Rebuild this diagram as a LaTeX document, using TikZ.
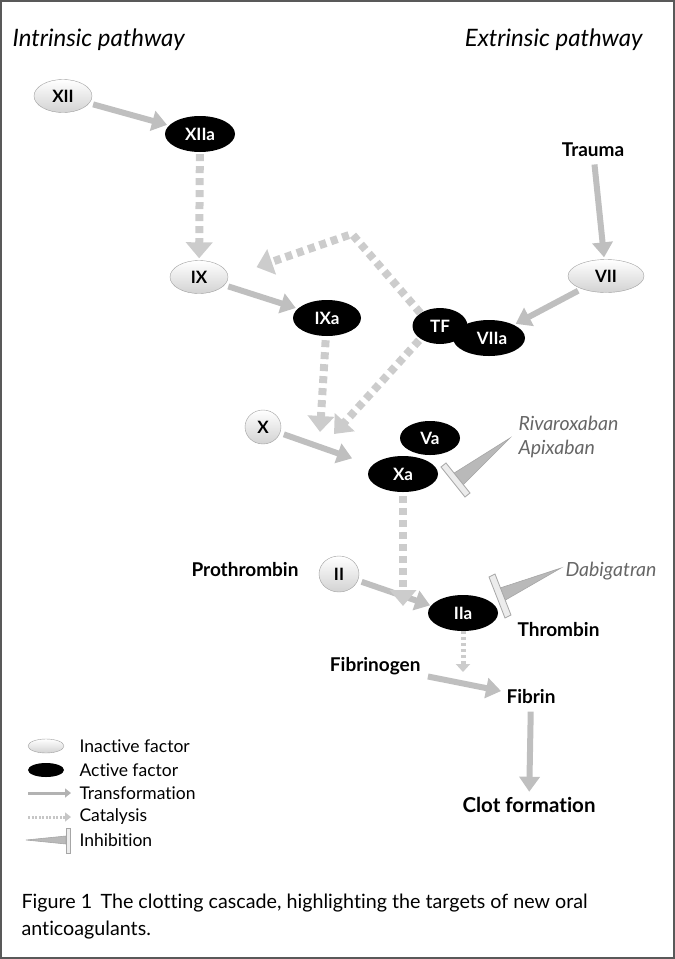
\documentclass[tikz,border=0pt]{standalone}
\usepackage{fontspec}
\setmainfont{Lato}[Ligatures=NoCommon]
\setsansfont{Lato}[Ligatures=NoCommon]
\usepackage{tikz}
\usetikzlibrary{shapes.geometric,arrows.meta,calc}
\tikzset{
  inactive/.style={ellipse, draw=gray!75, top color=white, bottom color=gray!35, minimum width=58pt, minimum height=33pt, inner sep=0pt, font=\bfseries\fontsize{17}{17}\selectfont},
  active/.style={ellipse, fill=black, text=white, minimum width=70pt, minimum height=36pt, inner sep=0pt, font=\bfseries\fontsize{17}{17}\selectfont},
  trans/.style={-{Triangle[length=15pt,width=20pt]}, draw=gray!50, line width=6pt, shorten <=4pt, shorten >=2pt},
  catal/.style={-{Triangle[length=16pt,width=26pt]}, draw=gray!40, line width=8pt, dash pattern=on 7pt off 5pt},
  smallcat/.style={-{Triangle[length=8pt,width=14pt]}, draw=gray!40, line width=5pt, dash pattern=on 3pt off 3pt},
  wedge/.style={fill=gray!55, draw=gray!70, line width=0.6pt},
  bar/.style={fill=gray!15, draw=gray!70, line width=0.8pt},
  label/.style={font=\bfseries\fontsize{19}{19}\selectfont},
  drug/.style={text=gray!80!black, font=\itshape\fontsize{19.5}{19.5}\selectfont},
  legtext/.style={anchor=west, font=\fontsize{17.5}{17.5}\selectfont}
}
\begin{document}
\begin{tikzpicture}[x=1pt, y=-1pt]
  \useasboundingbox (0,0) rectangle (675,959);
  \draw[gray!70!black, line width=2pt] (1,1) rectangle (674,958);
  % headings
  \node[anchor=west, font=\itshape\fontsize{24}{24}\selectfont] (intr) at (9,40) {Intrinsic pathway};
  \node[anchor=east, font=\itshape\fontsize{24}{24}\selectfont] (extr) at (646,40) {Extrinsic pathway};
  % factors
  \node[inactive] (XII) at (63,96) {XII};
  \node[active] (XIIa) at (200,134) {XIIa};
  \node[inactive] (IX) at (199,277) {IX};
  \node[label] (trauma) at (593,150) {Trauma};
  \node[inactive, minimum width=76pt] (VII) at (606,276) {VII};
  \node[active, minimum width=55pt] (TF) at (440,326) {TF};
  \node[active, minimum width=72pt] (VIIa) at (489,338) {\hspace{6pt}VIIa};
  \node[active, minimum width=68pt] (IXa) at (327,318) {IXa};
  \node[inactive, minimum width=36pt, minimum height=34pt] (X) at (263,427) {X};
  \node[active, minimum width=60pt, minimum height=34pt] (Va) at (430,438) {Va};
  \node[active] (Xa) at (403,474) {Xa};
  \node[label, anchor=east] (prothr) at (302,570) {Prothrombin};
  \node[inactive, minimum width=40pt, minimum height=36pt] (II) at (339,574) {II};
  \node[active] (IIa) at (463,613) {IIa};
  \node[label, anchor=west] (thromb) at (514,630) {Thrombin};
  \node[label, anchor=east] (fibrgen) at (424,666) {Fibrinogen};
  \node[label, anchor=west] (fibrin) at (503,697) {Fibrin};
  \node[label, font=\bfseries\fontsize{20.5}{20.5}\selectfont] (clot) at (529,805) {Clot formation};
  \node[drug, anchor=west] (rivar) at (515,423) {Rivaroxaban};
  \node[drug, anchor=west] (apix) at (515,449) {Apixaban};
  \node[drug, anchor=west] (dabig) at (562,571) {Dabigatran};
  % transformations
  \draw[trans] (XII) -- (XIIa);
  \draw[trans] (IX) -- (IXa);
  \draw[trans] (trauma) -- (VII);
  \draw[trans] (VII) -- (VIIa);
  \coordinate (Xend) at (354,459);
  \draw[trans] (X) -- (Xend);
  \coordinate (IIend) at (432,606);
  \draw[trans] (II) -- (IIend);
  \draw[trans] (fibrgen) -- (fibrin);
  \draw[trans] (fibrin) -- (clot);
  % catalysis
  \draw[catal, shorten <=2pt, shorten >=2pt] (XIIa) -- (IX);
  \coordinate (peak) at (352,234);
  \draw[catal, shorten >=30pt] (TF.north west) -- (peak) -- (IX.east);
  \coordinate (IXcat) at (320,432);
  \draw[catal, shorten <=4pt] (IXa) -- (IXcat);
  \coordinate (TFcat) at (334,434);
  \draw[catal, shorten <=2pt] (TF.south west) -- (TFcat);
  \coordinate (Xacat) at (403,606);
  \draw[catal, shorten <=4pt] (Xa) -- (Xacat);
  \coordinate (IIacat) at (463,672);
  \draw[smallcat] (IIa.south) -- (IIacat);
  % inhibition of Xa
  \coordinate (rivtip) at (510,438);
  \draw[wedge] (rivtip) -- (451,475) -- (461,487) -- cycle;
  \draw[bar] (441,467) -- (446,463) -- (470,493) -- (465,497) -- cycle;
  % inhibition of IIa
  \coordinate (dabtip) at (561,568);
  \draw[wedge] (dabtip) -- (497,589) -- (502,602) -- cycle;
  \draw[bar] (489,577) -- (495,574) -- (511,615) -- (505,618) -- cycle;
  % legend
  \node[inactive, minimum width=36pt, minimum height=14pt] (leginact) at (46,746) {};
  \node[legtext] (txinact) at (76,746) {Inactive factor};
  \node[active, minimum width=36pt, minimum height=14pt] (legact) at (46,770) {};
  \node[legtext] (txact) at (76,770) {Active factor};
  \coordinate (lt1) at (28,793);
  \coordinate (lt2) at (71,793);
  \draw[-{Triangle[length=6pt,width=9pt]}, draw=gray!60, line width=3pt] (lt1) -- (lt2);
  \node[legtext] (txtrans) at (76,793) {Transformation};
  \coordinate (lc1) at (28,817);
  \coordinate (lc2) at (71,817);
  \draw[-{Triangle[length=6pt,width=9pt]}, draw=gray!45, line width=3pt, dash pattern=on 2pt off 1.5pt] (lc1) -- (lc2);
  \node[legtext] (txcat) at (76,817) {Catalysis};
  \draw[wedge] (26,840) -- (66,836) -- (66,844) -- cycle;
  \draw[bar] (66,828) rectangle (70,853);
  \node[legtext] (txinh) at (76,840) {Inhibition};
  % caption
  \node[anchor=west, font=\fontsize{19.7}{27}\selectfont, align=left] (caption) at (18,917) {Figure 1\, The clotting cascade, highlighting the targets of new oral\\anticoagulants.};
\end{tikzpicture}
\end{document}
